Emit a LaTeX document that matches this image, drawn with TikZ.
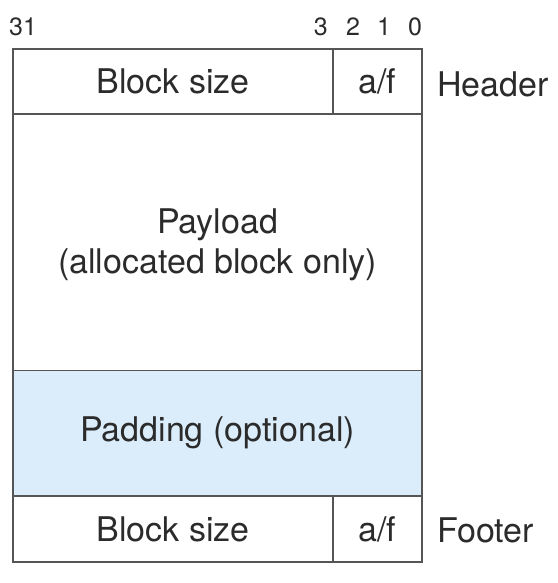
\documentclass[tikz,border=0pt]{standalone}
\usepackage{fontspec}
\setmainfont{TeX Gyre Heros}
\definecolor{linec}{HTML}{555555}
\definecolor{textc}{HTML}{2B2B2B}
\definecolor{padc}{HTML}{DBEDFB}
\begin{document}
\begin{tikzpicture}[x=1pt,y=-1pt,
  cell/.style={draw=linec, line width=1.4pt, inner sep=0pt, text=textc, font=\fontsize{34}{40}\selectfont},
  lbl/.style={inner sep=0pt, text=textc, font=\fontsize{34}{40}\selectfont},
  bit/.style={inner sep=0pt, text=textc, font=\fontsize{25}{29}\selectfont}]
\useasboundingbox (0,0) rectangle (557,583);
% header
\node[cell, minimum width=320pt, minimum height=65pt] (hsize) at (173,81.5) {Block size};
\node[cell, minimum width=89pt, minimum height=65pt] (haf) at (377.5,81.5) {a/f};
% payload
\node[cell, minimum width=409pt, minimum height=256.5pt] (payload) at (217.5,242.25) {};
\node[lbl, align=center, anchor=center] (ptext) at (217.5,245) {Payload\\[0pt](allocated block only)};
% padding
\node[cell, fill=padc, minimum width=409pt, minimum height=125.5pt] (padding) at (217.5,433.25) {Padding (optional)};
% footer
\node[cell, minimum width=320pt, minimum height=66pt] (fsize) at (173,529) {Block size};
\node[cell, minimum width=89pt, minimum height=66pt] (faf) at (377.5,529) {a/f};
% side labels
\node[lbl, anchor=west] (header) at (437,84) {Header};
\node[lbl, anchor=west] (footer) at (437,530) {Footer};
% bit numbers
\node[bit] (b31) at (23,26.5) {31};
\node[bit] (b3) at (320.7,26.5) {3};
\node[bit] (b2) at (353,26.5) {2};
\node[bit] (b1) at (384,26.5) {1};
\node[bit] (b0) at (415,26.5) {0};
\end{tikzpicture}
\end{document}
